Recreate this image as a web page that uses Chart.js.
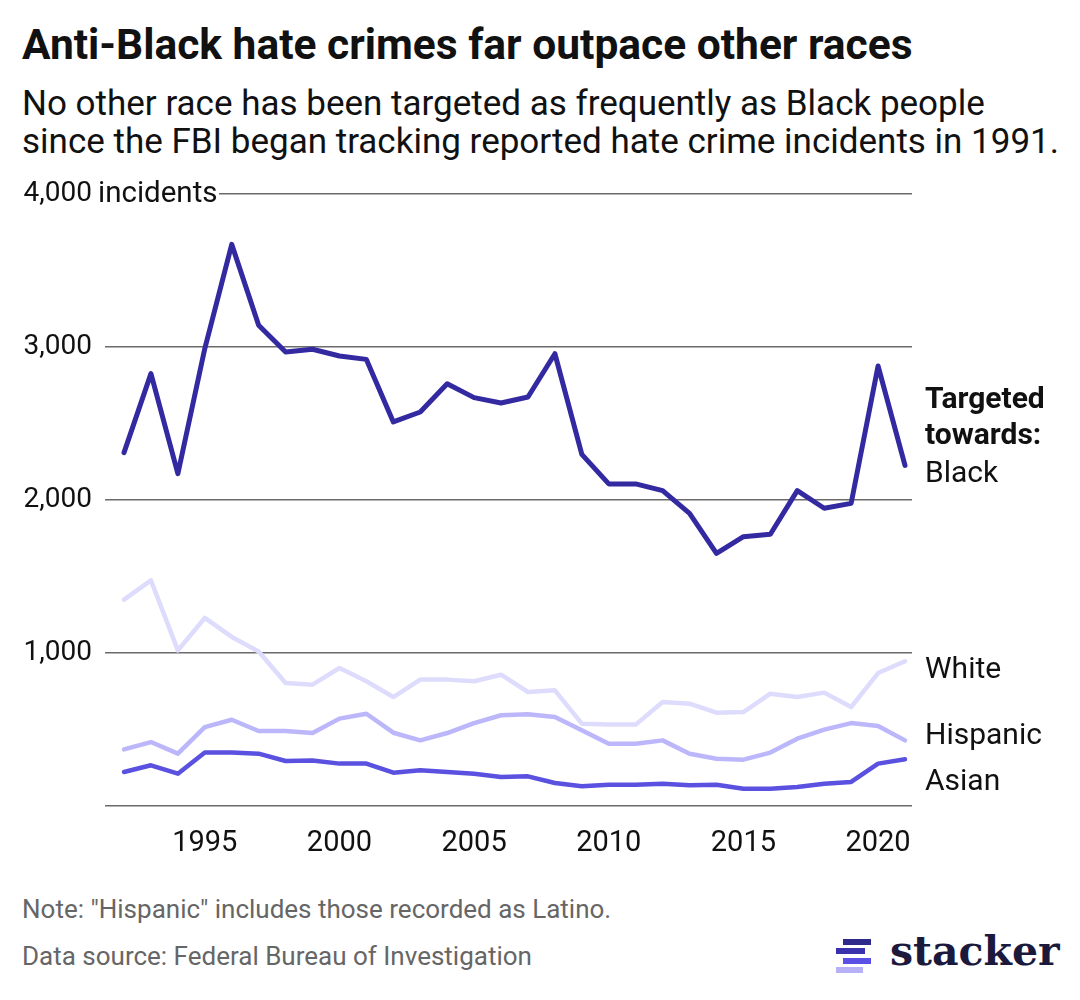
<!DOCTYPE html>
<html>
<head>
<meta charset="utf-8">
<script src="https://cdn.jsdelivr.net/npm/chart.js@4.4.1/dist/chart.umd.min.js"></script>
<style>
  body { margin: 0; background: #fff; width: 1080px; height: 1000px; overflow: hidden; position: relative; font-family: Roboto, sans-serif; color: #111; }
  #title { position: absolute; left: 22px; top: 24px; font-size: 42.5px; line-height: 1; font-weight: 700; white-space: nowrap; }
  #subtitle { position: absolute; left: 22px; top: 85px; font-size: 35px; line-height: 38px; white-space: nowrap; }
  #wrap { position: absolute; left: 0; top: 170px; width: 1080px; height: 700px; }
  #footer { position: absolute; left: 22px; top: 886px; font-size: 26px; line-height: 47px; color: #666; white-space: nowrap; }
  .bar { position: absolute; height: 6px; }
  #brand { position: absolute; left: 890px; top: 931px; font-family: "DejaVu Serif", serif; font-weight: 700; font-size: 41px; line-height: 1; color: #1b1a3d; }
</style>
</head>
<body>
<div id="title">Anti-Black hate crimes far outpace other races</div>
<div id="subtitle">No other race has been targeted as frequently as Black people<br>since the FBI began tracking reported hate crime incidents in 1991.</div>
<div id="wrap"><canvas id="chart"></canvas></div>
<div id="footer">Note: "Hispanic" includes those recorded as Latino.<br>Data source: Federal Bureau of Investigation</div>
<div class="bar" style="left:843px;top:939px;width:28px;background:#2e2a8c"></div>
<div class="bar" style="left:836px;top:948px;width:29px;background:#3a32ad"></div>
<div class="bar" style="left:843px;top:958px;width:28px;background:#5a50e6"></div>
<div class="bar" style="left:836px;top:967px;width:27px;background:#b7b2f8"></div>
<div id="brand">stacker</div>
<script>
// Years and incidents by targeted race
const years = [1992, 1993, 1994, 1995, 1996, 1997, 1998, 1999, 2000, 2001,
               2002, 2003, 2004, 2005, 2006, 2007, 2008, 2009, 2010, 2011,
               2012, 2013, 2014, 2015, 2016, 2017, 2018, 2019, 2020, 2021];
const black = [2310, 2826, 2172, 2990, 3671, 3142, 2967, 2985, 2941, 2919,
               2510, 2575, 2760, 2669, 2634, 2673, 2956, 2298, 2105, 2105,
               2061, 1913, 1651, 1760, 1776, 2061, 1946, 1978, 2876, 2226];
const white = [1349, 1475, 1017, 1229, 1105, 1010, 804, 793, 902, 815,
               712, 826, 826, 815, 858, 745, 756, 538, 532, 532,
               680, 669, 610, 614, 734, 712, 741, 647, 869, 946];
const hispanic = [370, 418, 342, 516, 564, 490, 490, 477, 571, 603,
                  479, 429, 477, 542, 593, 599, 582, 495, 407, 407,
                  429, 342, 309, 303, 349, 440, 499, 542, 523, 429];
const asian = [222, 266, 211, 349, 349, 342, 294, 298, 277, 277,
               218, 233, 222, 211, 190, 194, 150, 129, 139, 139,
               146, 135, 139, 113, 113, 124, 146, 157, 277, 305];
const xTicks = [1995, 2000, 2005, 2010, 2015, 2020];
const yTicks = [0, 1000, 2000, 3000, 4000];

Chart.defaults.font.family = "Roboto";
Chart.defaults.color = "#111";

function points(values) {
    return values.map((v, i) => ({ x: years[i], y: v }));
}

// name labels at the right end of each line
const endLabels = {
    id: "endLabels",
    afterDraw(chart) {
        const ctx = chart.ctx;
        const nudge = { Black: 17, White: 17, Hispanic: 4, Asian: 31 };
        ctx.save();
        ctx.fillStyle = "#111";
        ctx.textAlign = "left";
        ctx.textBaseline = "alphabetic";
        chart.data.datasets.forEach((ds, i) => {
            const meta = chart.getDatasetMeta(i);
            const last = meta.data[meta.data.length - 1];
            const x = chart.chartArea.right + 13;
            const y = last.y + nudge[ds.label];
            if (ds.label === "Black") {
                ctx.font = "700 30px Roboto";
                ctx.fillText("Targeted", x, y - 74);
                ctx.fillText("towards:", x, y - 38);
            }
            ctx.font = "30px Roboto";
            ctx.fillText(ds.label, x, y);
        });

        // "incidents" unit next to the top tick
        const yTop = chart.scales.y.getPixelForValue(4000);
        ctx.fillStyle = "#fff";
        ctx.fillRect(chart.chartArea.left - 2, yTop - 3, 116, 6);
        ctx.fillStyle = "#111";
        ctx.font = "29.5px Roboto";
        ctx.textBaseline = "middle";
        ctx.fillText("incidents", 98, yTop + 1);
        ctx.restore();
    }
};

new Chart(document.getElementById("chart"), {
    type: "line",
    data: {
        datasets: [
            { label: "Black", data: points(black), borderColor: "#3329a0", borderWidth: 5 },
            { label: "White", data: points(white), borderColor: "#dedcfc", borderWidth: 4.5 },
            { label: "Hispanic", data: points(hispanic), borderColor: "#bbb7fa", borderWidth: 4.5 },
            { label: "Asian", data: points(asian), borderColor: "#5a51e0", borderWidth: 4.5 }
        ]
    },
    options: {
        responsive: true,
        maintainAspectRatio: false,
        animation: false,
        layout: { padding: { top: 24, right: 168, left: 0, bottom: 0 } },
        elements: {
            point: { radius: 0 },
            line: { borderJoinStyle: "round", borderCapStyle: "round", tension: 0 }
        },
        plugins: {
            legend: { display: false },
            tooltip: { enabled: false }
        },
        scales: {
            x: {
                type: "linear",
                min: 1991.294,
                max: 2021.26,
                grid: { display: false },
                border: { display: false },
                afterBuildTicks: axis => { axis.ticks = xTicks.map(v => ({ value: v })); },
                afterFit: axis => { axis.height = 64; axis.paddingLeft = 0; axis.paddingRight = 0; },
                ticks: {
                    padding: 12,
                    font: { size: 29 },
                    color: "#111",
                    maxRotation: 0,
                    callback: v => String(v)
                }
            },
            y: {
                min: 0,
                max: 4000,
                grid: { color: "#6b6b6b", lineWidth: 1.5, drawTicks: false },
                border: { display: false },
                afterBuildTicks: axis => { axis.ticks = yTicks.map(v => ({ value: v })); },
                afterFit: axis => { axis.width = 105; axis.paddingTop = 0; axis.paddingBottom = 0; },
                ticks: {
                    padding: 13,
                    font: { size: 28 },
                    color: "#111",
                    callback: v => v === 0 ? "" : v.toLocaleString("en-US")
                }
            }
        }
    },
    plugins: [endLabels]
});
</script>
</body>
</html>
